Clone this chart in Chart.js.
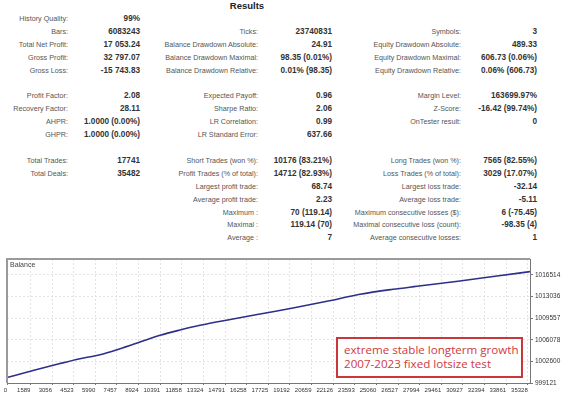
<!DOCTYPE html>
<html>
<head>
<meta charset="utf-8">
<script src="https://cdn.jsdelivr.net/npm/chart.js@4.4.1/dist/chart.umd.min.js"></script>
<style>
  html, body { margin: 0; padding: 0; background: #fff; }
  body { width: 570px; height: 400px; position: relative; overflow: hidden; font-family: "Liberation Sans", Arial, sans-serif; }
  .title { position: absolute; left: 200px; width: 94px; top: 0px; text-align: center; font-weight: bold; font-size: 9.5px; color: #222; line-height: 11px; }
  .lbl { position: absolute; text-align: right; font-size: 7.2px; color: #555; line-height: 12px; white-space: nowrap; }
  .val { position: absolute; text-align: right; font-size: 8.2px; font-weight: bold; color: #333; line-height: 12px; white-space: nowrap; }
  #wrap { position: absolute; left: 0; top: 250px; width: 570px; height: 150px; }
  #balLbl { position: absolute; left: 10px; top: 261px; font-size: 7px; color: #444; }
  #note { position: absolute; left: 336px; top: 337px; width: 187px; height: 41px; border: 2px solid #c9363b; background: #fff;
          color: #d0393e; font-family: "Open Sans", sans-serif; font-size: 11.6px; line-height: 13.5px; padding: 4px 0 0 6px; box-sizing: border-box; white-space: nowrap; }
</style>
</head>
<body>
<div class="title">Results</div>
<div id="table"></div>
<div id="wrap"><canvas id="balance"></canvas></div>
<div id="balLbl">Balance</div>
<div id="note">extreme stable longterm growth<br>2007-2023 fixed lotsize test</div>
<script>
// report rows: [row, column, label, value]
const reportRows = [
  [0, 0, "History Quality:", "99%"],
  [1, 0, "Bars:", "6083243"],
  [1, 1, "Ticks:", "23740831"],
  [1, 2, "Symbols:", "3"],
  [2, 0, "Total Net Profit:", "17 053.24"],
  [2, 1, "Balance Drawdown Absolute:", "24.91"],
  [2, 2, "Equity Drawdown Absolute:", "489.33"],
  [3, 0, "Gross Profit:", "32 797.07"],
  [3, 1, "Balance Drawdown Maximal:", "98.35 (0.01%)"],
  [3, 2, "Equity Drawdown Maximal:", "606.73 (0.06%)"],
  [4, 0, "Gross Loss:", "-15 743.83"],
  [4, 1, "Balance Drawdown Relative:", "0.01% (98.35)"],
  [4, 2, "Equity Drawdown Relative:", "0.06% (606.73)"],
  [6, 0, "Profit Factor:", "2.08"],
  [6, 1, "Expected Payoff:", "0.96"],
  [6, 2, "Margin Level:", "163699.97%"],
  [7, 0, "Recovery Factor:", "28.11"],
  [7, 1, "Sharpe Ratio:", "2.06"],
  [7, 2, "Z-Score:", "-16.42 (99.74%)"],
  [8, 0, "AHPR:", "1.0000 (0.00%)"],
  [8, 1, "LR Correlation:", "0.99"],
  [8, 2, "OnTester result:", "0"],
  [9, 0, "GHPR:", "1.0000 (0.00%)"],
  [9, 1, "LR Standard Error:", "637.66"],
  [11, 0, "Total Trades:", "17741"],
  [11, 1, "Short Trades (won %):", "10176 (83.21%)"],
  [11, 2, "Long Trades (won %):", "7565 (82.55%)"],
  [12, 0, "Total Deals:", "35482"],
  [12, 1, "Profit Trades (% of total):", "14712 (82.93%)"],
  [12, 2, "Loss Trades (% of total):", "3029 (17.07%)"],
  [13, 1, "Largest profit trade:", "68.74"],
  [13, 2, "Largest loss trade:", "-32.14"],
  [14, 1, "Average profit trade:", "2.23"],
  [14, 2, "Average loss trade:", "-5.11"],
  [15, 1, "Maximum :", "70 (119.14)"],
  [15, 2, "Maximum consecutive losses ($):", "6 (-75.45)"],
  [16, 1, "Maximal :", "119.14 (70)"],
  [16, 2, "Maximal consecutive loss (count):", "-98.35 (4)"],
  [17, 1, "Average :", "7"],
  [17, 2, "Average consecutive losses:", "1"]
];

// balance curve (deal number, balance)
const dealNo = [0, 1764, 3596, 4952, 6309, 7666, 9023, 10380, 11736, 13093, 15332, 17164, 19402, 21709, 23948, 26186, 27814, 30732, 33242, 35482];
const balance = [1000000, 1001134, 1002261, 1003034, 1003679, 1004645, 1005724, 1006803, 1007657, 1008414, 1009428, 1010233, 1011200, 1012279, 1013406, 1014211, 1014695, 1015548, 1016353, 1017053];

const xTicks = [0, 1589, 3056, 4523, 5990, 7457, 8924, 10391, 11858, 13324, 14791, 16258, 17725, 19192, 20659, 22126, 23593, 25060, 26527, 27994, 29461, 30927, 32394, 33861, 35328];
const yTicks = [999121, 1002600, 1006078, 1009557, 1013036, 1016514];

// table layout
const lblRight = [68, 258, 461];
const valRight = [140, 332, 537];
const table = document.getElementById("table");
reportRows.forEach(([row, col, label, value]) => {
  const y = 19 + 12.9 * row - 6;
  const l = document.createElement("div");
  l.className = "lbl";
  l.style.right = (570 - lblRight[col]) + "px";
  l.style.top = y + "px";
  l.textContent = label;
  table.appendChild(l);
  const v = document.createElement("div");
  v.className = "val";
  v.style.right = (570 - valRight[col]) + "px";
  v.style.top = y + "px";
  v.textContent = value;
  table.appendChild(v);
});

const frame = {
  id: "frame",
  afterDraw(chart) {
    const a = chart.chartArea;
    const c = chart.ctx;
    c.save();
    c.strokeStyle = "#9a9a9a";
    c.lineWidth = 2;
    c.beginPath();
    c.moveTo(a.left, a.bottom);
    c.lineTo(a.left, a.top);
    c.lineTo(a.right, a.top);
    c.stroke();
    c.lineWidth = 1;
    c.strokeStyle = "#777";
    c.beginPath();
    c.moveTo(a.right + 0.5, a.top);
    c.lineTo(a.right + 0.5, a.bottom);
    c.stroke();
    c.restore();
  }
};

new Chart(document.getElementById("balance"), {
  type: "line",
  data: {
    datasets: [{
      label: "Balance",
      data: dealNo.map((x, i) => ({ x: x, y: balance[i] })),
      borderColor: "#2e2f8c",
      borderWidth: 1.6,
      pointRadius: 0,
      cubicInterpolationMode: "monotone",
      fill: false
    }]
  },
  options: {
    responsive: true,
    maintainAspectRatio: false,
    animation: false,
    layout: { padding: { left: 7, top: 9, right: 0, bottom: 0 } },
    plugins: { legend: { display: false }, tooltip: { enabled: false } },
    scales: {
      x: {
        type: "linear",
        min: 0,
        max: 35482,
        afterBuildTicks: (s) => { s.ticks = xTicks.map(v => ({ value: v })); },
        afterFit: (s) => { s.height = 17; },
        ticks: { autoSkip: false, maxRotation: 0, align: "end", padding: 2, color: "#333", font: { family: "Liberation Sans", size: 6 }, callback: (v) => String(v) },
        grid: { color: "#e2e2e2", tickLength: 2, tickColor: "#777" },
        border: { color: "#777", dash: [2, 2] }
      },
      y: {
        position: "right",
        min: 999121,
        max: 1019090,
        afterBuildTicks: (s) => { s.ticks = yTicks.map(v => ({ value: v })); },
        afterFit: (s) => { s.width = 40; },
        ticks: { autoSkip: false, padding: 2, color: "#333", font: { family: "Liberation Sans", size: 6.5 }, callback: (v) => String(v) },
        grid: { color: "#e2e2e2", tickLength: 3, tickColor: "#777" },
        border: { display: false, dash: [2, 2] }
      }
    }
  },
  plugins: [frame]
});
</script>
</body>
</html>
